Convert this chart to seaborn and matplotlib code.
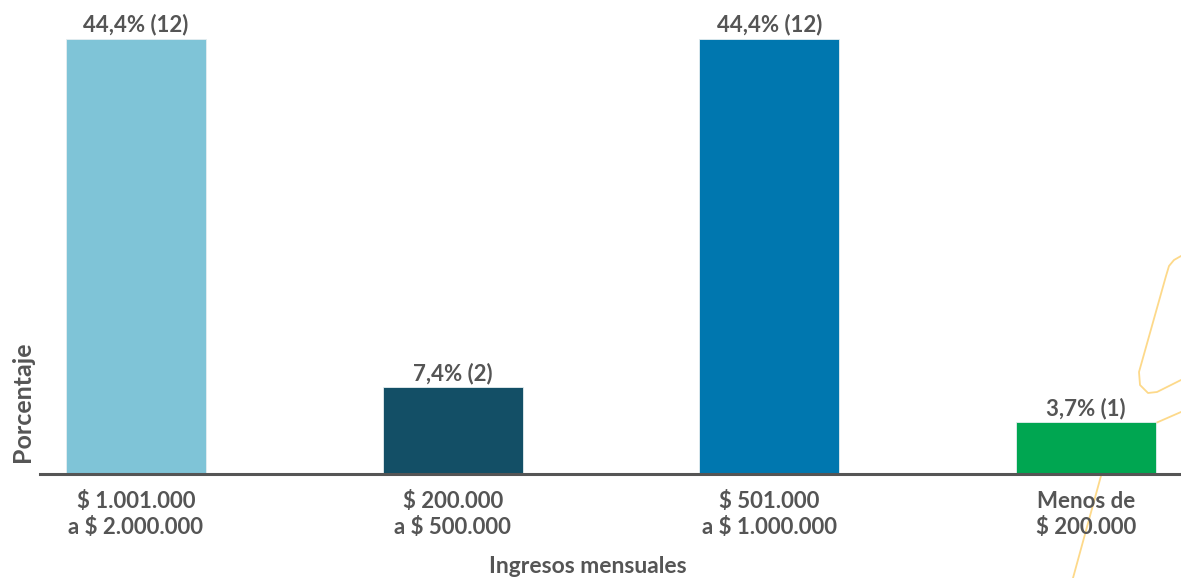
import matplotlib
matplotlib.use("Agg")
import matplotlib.pyplot as plt
from matplotlib.lines import Line2D
import seaborn as sns
import pandas as pd

categorias = ["$ 1.001.000\na $ 2.000.000", "$ 200.000\na $ 500.000",
              "$ 501.000\na $ 1.000.000", "Menos de\n$ 200.000"]
porcentajes = [44.4, 7.4, 44.4, 3.7]
conteos = [12, 2, 12, 1]
colores = ["#7FC4D7", "#134F66", "#0077AF", "#00A651"]

sns.set_theme(style="white")
plt.rcParams["font.family"] = ["Lato", "DejaVu Sans"]
gris = "#555555"
W, H = 1181, 578

# el eje de valores arranca un poco por debajo de cero
base = -1.85
df = pd.DataFrame({"ingreso": categorias, "pct": porcentajes})
df["alto"] = df["pct"] - base

fig = plt.figure(figsize=(W / 100, H / 100), dpi=100)

# adorno amarillo de fondo (esquina derecha)
adorno = [
    [(1181, 256), (1174, 260), (1169, 266), (1166, 276), (1139, 372),
     (1140, 385), (1148, 393), (1157, 392), (1181, 380)],
    [(1181, 412), (1110, 443), (1073, 578)],
]
for trazo in adorno:
    xs = [p[0] / W for p in trazo]
    ys = [1 - p[1] / H for p in trazo]
    fig.add_artist(Line2D(xs, ys, transform=fig.transFigure, color="#FDD98A",
                          linewidth=1.3, zorder=-1, solid_joinstyle="round"))

ax = fig.add_axes([40 / W, 104 / H, 1141 / W, 474 / H])
ax.patch.set_alpha(0)

sns.barplot(data=df, x="ingreso", y="alto", hue="ingreso", palette=colores,
            saturation=1, legend=False, width=0.442, ax=ax, bottom=base,
            edgecolor="#e6eef0", linewidth=0.6)

for i, (p, n) in enumerate(zip(porcentajes, conteos)):
    etiqueta = f"{p:.1f}".replace(".", ",") + f"% ({n})"
    ax.annotate(etiqueta, (i, p), xytext=(0, 2), textcoords="offset points",
                ha="center", va="bottom", fontsize=16, fontweight="bold", color=gris)

ax.set_xlim(-0.303, 3.30)
ax.set_ylim(base, 48.5)
ax.set_yticks([])
for s in ["top", "right", "left"]:
    ax.spines[s].set_visible(False)
ax.spines["bottom"].set_color(gris)
ax.spines["bottom"].set_linewidth(2.2)
ax.tick_params(axis="x", length=0, pad=12, labelsize=16, labelcolor=gris)
for t in ax.get_xticklabels():
    t.set_fontweight("bold")
    t.set_linespacing(1.3)

ax.set_xlabel("Ingresos mensuales", fontsize=16.5, fontweight="bold", color=gris)
ax.xaxis.set_label_coords(548 / 1141, -82 / 474)
ax.set_ylabel("Porcentaje", fontsize=18, fontweight="bold", color=gris)
ax.yaxis.set_label_coords(-6 / 1141, 72 / 474)

fig.savefig("out.png", dpi=100)
